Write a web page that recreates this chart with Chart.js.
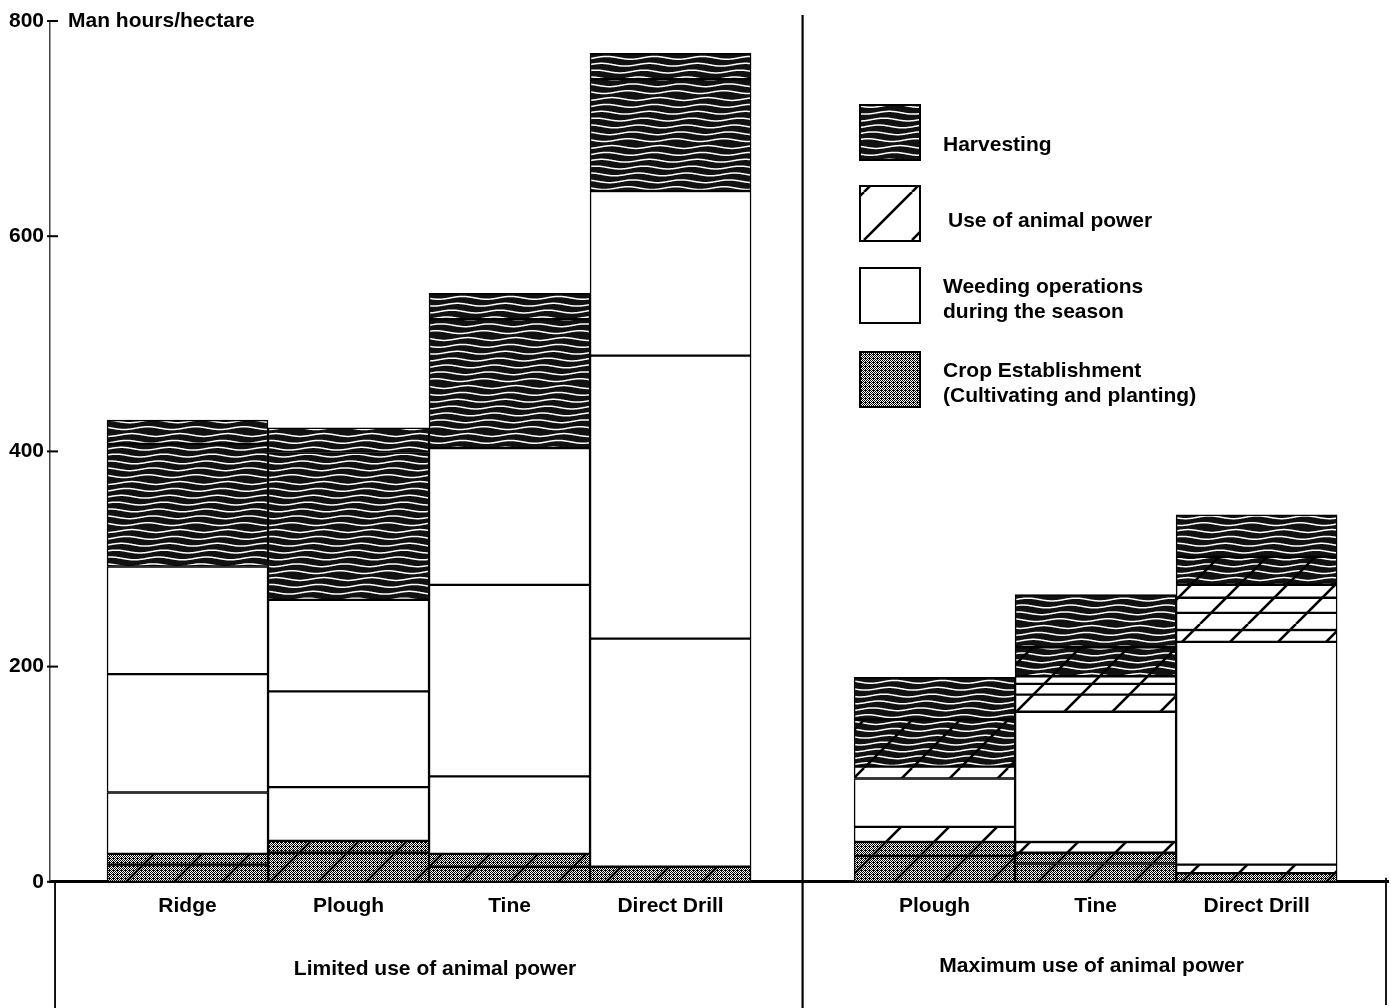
<!DOCTYPE html>
<html>
<head>
<meta charset="utf-8">
<script src="https://cdn.jsdelivr.net/npm/chart.js@4.4.1/dist/chart.umd.min.js"></script>
<style>
  body { margin: 0; background: #fff; }
  #wrap { width: 1391px; height: 1008px; }
</style>
</head>
<body>
<div id="wrap"><canvas id="labourChart" width="1391" height="1008"></canvas></div>
<script>
// bars, left to right
const barLabels = ['Ridge', 'Plough', 'Tine', 'Direct Drill', 'Plough', 'Tine', 'Direct Drill'];
const barPos = [0, 1, 2, 3, 4.64, 5.64, 6.64];
const groupNames = ['Limited use of animal power', 'Maximum use of animal power'];
const yTicks = [0, 200, 400, 600, 800];

// top of each segment (man hours/hectare), bottom to top
const ridgeLimTops = [16, 26, 83, 193, 293, 407, 429];
const ridgeLimKinds = ['estA', 'estA', 'weed', 'weed', 'weed', 'harv', 'harv'];
const ploughLimTops = [27, 38, 88, 177, 262, 399, 422];
const ploughLimKinds = ['estA', 'estA', 'weed', 'weed', 'weed', 'harv', 'harv'];
const tineLimTops = [14, 26, 98, 276, 403, 523, 547];
const tineLimKinds = ['estA', 'estA', 'weed', 'weed', 'weed', 'harv', 'harv'];
const drillLimTops = [14, 226, 489, 642, 746, 770];
const drillLimKinds = ['estA', 'weed', 'weed', 'weed', 'harv', 'harv'];
const ploughMaxTops = [24, 37, 51, 96, 107, 151, 190];
const ploughMaxKinds = ['estA', 'estA', 'weedA', 'weed', 'weedA', 'harvA', 'harv'];
const tineMaxTops = [17, 27, 37, 158, 174, 184, 191, 218, 267];
const tineMaxKinds = ['estA', 'estA', 'weedA', 'weed', 'weedA', 'weedA', 'weedA', 'harvA', 'harv'];
const drillMaxTops = [8, 16, 223, 234, 250, 264, 276, 302, 341];
const drillMaxKinds = ['estA', 'weedA', 'weed', 'weedA', 'weedA', 'weedA', 'weedA', 'harvA', 'harv'];

const allTops = [ridgeLimTops, ploughLimTops, tineLimTops, drillLimTops, ploughMaxTops, tineMaxTops, drillMaxTops];
const allKinds = [ridgeLimKinds, ploughLimKinds, tineLimKinds, drillLimKinds, ploughMaxKinds, tineMaxKinds, drillMaxKinds];

const legendItems = [
    { kind: 'harv', lines: ['Harvesting'] },
    { kind: 'hatch', lines: ['Use of animal power'] },
    { kind: 'weed', lines: ['Weeding operations', 'during the season'] },
    { kind: 'est', lines: ['Crop Establishment', '(Cultivating and planting)'] }
];

const FONT = '"Liberation Sans", Arial, Helvetica, sans-serif';

// tiled fills: stipple, wavy lines, diagonal hatch
function makePattern(stipple, wave, hatch) {
    const c = document.createElement('canvas');
    c.width = 48; c.height = 48;
    const g = c.getContext('2d');
    g.fillStyle = '#fff';
    g.fillRect(0, 0, 48, 48);
    if (stipple) {
        g.fillStyle = '#000';
        for (let y = 0; y < 48; y++) {
            for (let x = 0; x < 48; x++) {
                if ((x + y) % 2 === 0 || (x % 4 === 1 && y % 4 === 2)) g.fillRect(x, y, 1, 1);
            }
        }
    }
    if (wave) {
        g.fillStyle = '#111';
        g.fillRect(0, 0, 48, 48);
        g.strokeStyle = '#fff';
        g.lineWidth = 1.5;
        for (let r = 0; r < 7; r++) {
            g.beginPath();
            for (let x = 0; x <= 48; x++) {
                const y = r * 48 / 7 + 3 + 1.4 * Math.sin(2 * Math.PI * x / 48 + r * 0.7);
                if (x === 0) g.moveTo(x, y); else g.lineTo(x, y);
            }
            g.stroke();
        }
    }
    if (hatch) {
        g.strokeStyle = '#000';
        g.lineWidth = 2.6;
        for (let k = 0; k < 3; k++) {
            g.beginPath();
            g.moveTo(48 * k, 0);
            g.lineTo(48 * k - 48, 48);
            g.stroke();
        }
    }
    return g.createPattern(c, 'repeat');
}

const fills = {
    est: makePattern(true, false, false),
    estA: makePattern(true, false, true),
    weed: '#ffffff',
    weedA: makePattern(false, false, true),
    hatch: makePattern(false, false, true),
    harv: makePattern(false, true, false),
    harvA: makePattern(false, true, true)
};

// one dataset per fill kind, floating segments built from the tops
const kindOrder = ['estA', 'weed', 'weedA', 'harv', 'harvA'];
const datasets = kindOrder.map(kind => {
    const data = [];
    allTops.forEach((tops, b) => {
        tops.forEach((top, i) => {
            if (allKinds[b][i] === kind) {
                data.push({ x: barPos[b], y: [i === 0 ? 0 : tops[i - 1], top] });
            }
        });
    });
    return {
        label: kind,
        data: data,
        backgroundColor: fills[kind],
        borderColor: '#000',
        borderWidth: 1.5,
        borderSkipped: false,
        grouped: false,
        barPercentage: 1,
        categoryPercentage: 1
    };
});

const decorations = {
    id: 'decorations',
    afterDraw(chart) {
        const g = chart.ctx;
        const area = chart.chartArea;
        const xs = chart.scales.x;
        const ys = chart.scales.y;
        g.save();
        g.fillStyle = '#000';
        g.strokeStyle = '#000';

        // unit label next to the top tick
        g.font = 'bold 21px ' + FONT;
        g.textBaseline = 'middle';
        g.textAlign = 'left';
        g.fillText('Man hours/hectare', area.left + 18, ys.getPixelForValue(800));

        // y tick marks crossing the axis
        g.lineWidth = 2;
        yTicks.forEach(v => {
            const py = ys.getPixelForValue(v);
            g.beginPath();
            g.moveTo(area.left - 3, py);
            g.lineTo(area.left + 8, py);
            g.stroke();
        });

        // divider between the two groups
        const divX = xs.getPixelForValue((barPos[3] + barPos[4]) / 2);
        g.lineWidth = 2.2;
        g.beginPath();
        g.moveTo(divX, 15);
        g.lineTo(divX, chart.height);
        g.stroke();

        // box under the axis
        g.lineWidth = 1.8;
        g.beginPath();
        g.moveTo(area.left + 5, area.bottom);
        g.lineTo(area.left + 5, chart.height);
        g.moveTo(area.right - 2, area.bottom - 4);
        g.lineTo(area.right - 2, chart.height - 3);
        g.stroke();

        // group captions
        g.font = 'bold 21px ' + FONT;
        g.textAlign = 'center';
        const leftC = xs.getPixelForValue((barPos[0] + barPos[3]) / 2) + 6;
        const rightC = xs.getPixelForValue((barPos[4] + barPos[6]) / 2) - 4;
        g.fillText(groupNames[0], leftC, area.bottom + 87);
        g.fillText(groupNames[1], rightC, area.bottom + 84);

        // legend
        const lx = 860, boxW = 60, boxH = 55;
        const tops = [105, 186, 268, 352];
        g.textAlign = 'left';
        legendItems.forEach((item, i) => {
            const ty = tops[i];
            g.fillStyle = fills[item.kind];
            g.fillRect(lx, ty, boxW, boxH);
            g.lineWidth = 2;
            g.strokeStyle = '#000';
            g.strokeRect(lx, ty, boxW, boxH);
            g.fillStyle = '#000';
            const tx = item.kind === 'hatch' ? 948 : 943;
            if (item.lines.length === 1) {
                g.fillText(item.lines[0], tx, ty + (i === 0 ? 40 : 35));
            } else {
                g.fillText(item.lines[0], tx, ty + 19);
                g.fillText(item.lines[1], tx, ty + 44);
            }
        });
        g.restore();
    }
};

const ctx = document.getElementById('labourChart').getContext('2d');
const labourChart = new Chart(ctx, {
    type: 'bar',
    data: { datasets: datasets },
    options: {
        responsive: false,
        animation: false,
        layout: { padding: { left: 3, right: 3, top: 21, bottom: 77 } },
        plugins: {
            legend: { display: false },
            tooltip: { enabled: false }
        },
        scales: {
            x: {
                type: 'linear',
                offset: false,
                min: -0.854,
                max: 7.456,
                grid: { display: false, drawTicks: false, offset: false },
                border: { display: true, color: '#000', width: 3 },
                afterBuildTicks: scale => {
                    scale.ticks = barPos.map(v => ({ value: v }));
                },
                ticks: {
                    autoSkip: false,
                    maxRotation: 0,
                    padding: 12,
                    color: '#000',
                    font: { family: FONT, size: 21, weight: 'bold' },
                    callback: (value, index) => barLabels[index]
                }
            },
            y: {
                min: 0,
                max: 800,
                grid: { display: false, drawTicks: false },
                border: { display: true, color: '#444', width: 1.5, dash: [7, 3] },
                afterBuildTicks: scale => {
                    scale.ticks = yTicks.map(v => ({ value: v }));
                },
                ticks: {
                    padding: 6,
                    color: '#000',
                    font: { family: FONT, size: 21, weight: 'bold' }
                }
            }
        }
    },
    plugins: [decorations]
});
</script>
</body>
</html>
